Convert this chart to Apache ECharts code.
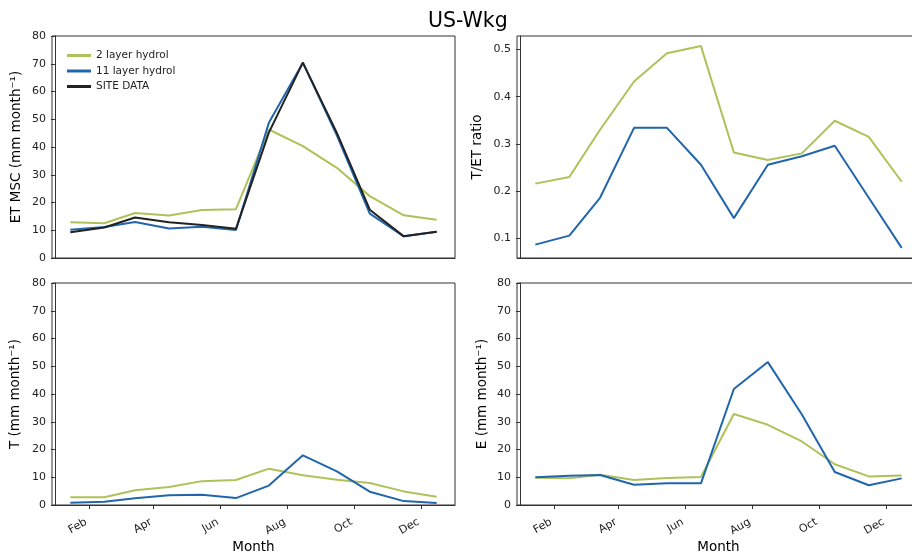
<!DOCTYPE html>
<html>
<head>
<meta charset="utf-8">
<script src="https://cdn.jsdelivr.net/npm/echarts@6/dist/echarts.min.js"></script>
<style>html,body{margin:0;padding:0;background:#fff}#c{width:912px;height:558px}</style>
</head>
<body>
<div id="c"></div>
<script>
// ---- data ----
var months = [1,2,3,4,5,6,7,8,9,10,11,12];
var tickMonths = [2,4,6,8,10,12];
var tickLabels = ['Feb','Apr','Jun','Aug','Oct','Dec'];
var seriesNames = ['2 layer hydrol','11 layer hydrol','SITE DATA'];

var et2  = [12.9,12.5,16.2,15.3,17.3,17.6,46.3,40.3,32.5,22.3,15.4,13.8];
var et11 = [10.2,11.2,13.0,10.6,11.3,10.1,48.7,70.4,44.2,16.0,7.8,9.5];
var etSite=[9.3,11.0,14.6,12.9,11.9,10.5,45.2,70.4,45.1,17.4,7.8,9.5];

var ratio2  = [0.216,0.230,0.330,0.432,0.492,0.507,0.282,0.266,0.280,0.349,0.315,0.220];
var ratio11 = [0.087,0.106,0.186,0.334,0.334,0.256,0.143,0.256,0.274,0.296,0.186,0.080];

var t2  = [2.8,2.8,5.3,6.5,8.6,9.0,13.1,10.7,9.1,7.9,4.9,3.0];
var t11 = [0.8,1.2,2.4,3.5,3.7,2.5,7.0,17.9,12.1,4.8,1.4,0.7];

var e2  = [9.8,9.6,10.9,9.0,9.7,10.1,32.8,28.9,22.9,14.7,10.3,10.6];
var e11 = [10.0,10.5,10.8,7.3,7.8,7.8,41.8,51.5,32.6,11.9,7.1,9.6];

var ratioTicks = [0.1,0.2,0.3,0.4,0.5];
var mmTicks = [0,10,20,30,40,50,60,70,80];

// ---- helpers ----
function doy(m, d){ return (Date.UTC(2001, m-1, d) - Date.UTC(2001,0,1))/864e5; }
var xs = months.map(function(m){ return doy(m,15); });
var xTicks = tickMonths.map(function(m){ return doy(m,1); });
var span = xs[xs.length-1]-xs[0];
var xMin = xs[0]-0.05*span, xMax = xs[xs.length-1]+0.05*span;
function pts(arr){ return arr.map(function(v,i){ return [xs[i], v]; }); }

var GREEN='#aec25a', BLUE='#2166ac', BLACK='#222222';
var FONT='DejaVu Sans';
var grids=[
  {left:52, top:36, width:403, height:222},
  {left:517, top:36, width:403, height:222},
  {left:52, top:283, width:403, height:222},
  {left:517, top:283, width:403, height:222}
];
grids.forEach(function(g){ g.show=true; g.borderColor='#333'; g.borderWidth=1; g.backgroundColor='transparent'; g.outerBoundsMode='none'; g.containLabel=false; });

function xAxis(i, showLabels){
  return {
    type:'value', gridIndex:i, min:xMin, max:xMax,
    name: showLabels ? 'Month' : '', nameLocation:'middle', nameGap:35,
    nameTextStyle:{fontFamily:FONT, fontSize:13.5, color:'#000'},
    axisLine:{show:true, onZero:false, lineStyle:{color:'#333', width:1}},
    axisTick:{show:showLabels, customValues:xTicks, length:4, lineStyle:{color:'#333'}},
    axisLabel:{show:showLabels, customValues:xTicks, rotate:30, verticalAlign:'bottom', fontFamily:FONT, fontSize:11, color:'#222', margin:21,
      formatter:function(v){ var k=-1; for(var j=0;j<xTicks.length;j++){ if(Math.abs(xTicks[j]-v)<0.01) k=j; } return k>=0?tickLabels[k]:''; }},
    splitLine:{show:false}
  };
}
function yAxis(i, name, min, max, ticks, gap){
  return {
    type:'value', gridIndex:i, min:min, max:max,
    name:name, nameLocation:'middle', nameGap:gap,
    nameTextStyle:{fontFamily:FONT, fontSize:13.5, color:'#000'},
    axisLine:{show:true, lineStyle:{color:'#333', width:1}},
    axisTick:{show:true, customValues:ticks, length:4, lineStyle:{color:'#333'}},
    axisLabel:{customValues:ticks, fontFamily:FONT, fontSize:11, color:'#222', margin:6},
    splitLine:{show:false}
  };
}
function line(name, data, color, i){
  return {type:'line', name:name, xAxisIndex:i, yAxisIndex:i, data:pts(data), showSymbol:false, symbol:'none',
    lineStyle:{color:color, width:2}, itemStyle:{color:color}, silent:true, animation:false, z: name==='SITE DATA'?3:2};
}
var allR = ratio2.concat(ratio11);
var rLo = Math.min.apply(null,allR), rHi = Math.max.apply(null,allR);
var rMin = rLo - 0.05*(rHi-rLo), rMax = rHi + 0.05*(rHi-rLo);

var option = {
  animation:false,
  backgroundColor:'#fff',
  title:{text:'US-Wkg', left:423, top:6, textStyle:{fontFamily:FONT, fontSize:20.5, fontWeight:'normal', color:'#000'}},
  legend:{data:seriesNames, orient:'vertical', left:62, top:45, itemWidth:24, itemHeight:3, itemGap:4.5, icon:'rect',
    textStyle:{fontFamily:FONT, fontSize:10.5, color:'#222'}, selectedMode:false},
  grid:grids,
  xAxis:[xAxis(0,false), xAxis(1,false), xAxis(2,true), xAxis(3,true)],
  yAxis:[
    yAxis(0,'ET MSC (mm month\u207B\u00B9)',0,80,mmTicks,29),
    yAxis(1,'T/ET ratio',rMin,rMax,ratioTicks,33),
    yAxis(2,'T (mm month\u207B\u00B9)',0,80,mmTicks,30),
    yAxis(3,'E (mm month\u207B\u00B9)',0,80,mmTicks,28)
  ],
  series:[
    line(seriesNames[0], et2, GREEN, 0),
    line(seriesNames[1], et11, BLUE, 0),
    line(seriesNames[2], etSite, BLACK, 0),
    line(seriesNames[0], ratio2, GREEN, 1),
    line(seriesNames[1], ratio11, BLUE, 1),
    line(seriesNames[0], t2, GREEN, 2),
    line(seriesNames[1], t11, BLUE, 2),
    line(seriesNames[0], e2, GREEN, 3),
    line(seriesNames[1], e11, BLUE, 3)
  ]
};
var chart = echarts.init(document.getElementById('c'), null, {renderer:'canvas'});
chart.setOption(option);
</script>
</body>
</html>
